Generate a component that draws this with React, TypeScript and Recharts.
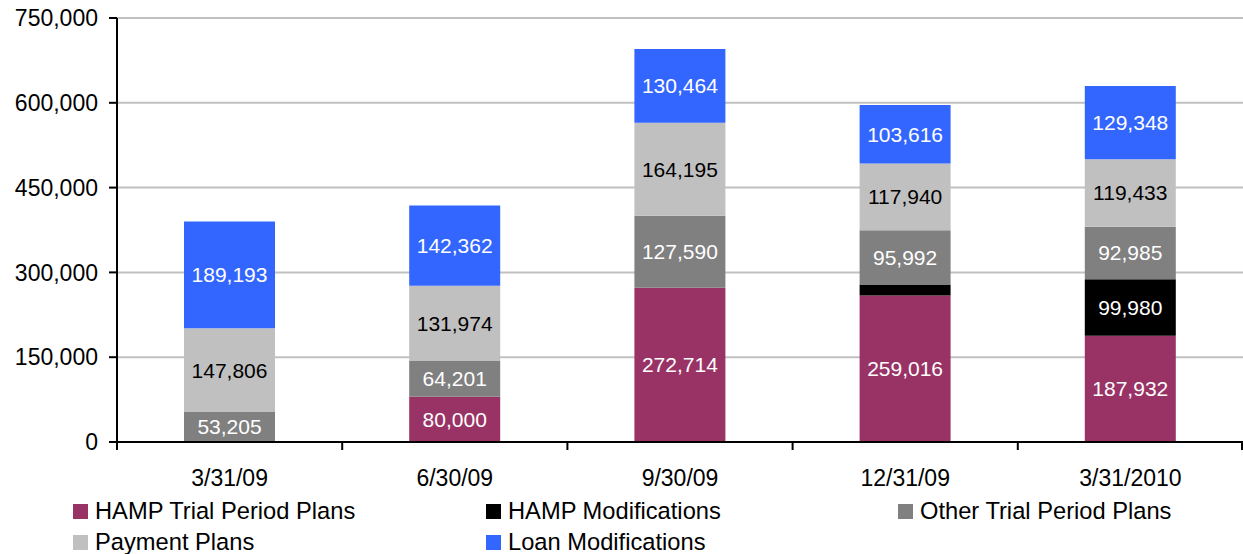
import React from "react";
import { BarChart, Bar, XAxis, YAxis, CartesianGrid, LabelList } from "recharts";

// Quarter-end reporting dates
const periods = ["3/31/09", "6/30/09", "9/30/09", "12/31/09", "3/31/2010"];

// Workout counts by type, stacked bottom to top
const hampTrialPlans = [0, 80000, 272714, 259016, 187932];
const hampModifications = [0, 0, 0, 19500, 99980];
const otherTrialPlans = [53205, 64201, 127590, 95992, 92985];
const paymentPlans = [147806, 131974, 164195, 117940, 119433];
const loanModifications = [189193, 142362, 130464, 103616, 129348];

const yTicks = [0, 150000, 300000, 450000, 600000, 750000];

const series = [
  { key: "hampTrial", name: "HAMP Trial Period Plans", values: hampTrialPlans, color: "#993366", labelColor: "#ffffff" },
  { key: "hampMod", name: "HAMP Modifications", values: hampModifications, color: "#000000", labelColor: "#ffffff" },
  { key: "otherTrial", name: "Other Trial Period Plans", values: otherTrialPlans, color: "#808080", labelColor: "#ffffff" },
  { key: "payment", name: "Payment Plans", values: paymentPlans, color: "#c0c0c0", labelColor: "#000000" },
  { key: "loanMod", name: "Loan Modifications", values: loanModifications, color: "#3366ff", labelColor: "#ffffff" },
];

const data = periods.map((period, i) => {
  const row: Record<string, string | number> = { period };
  series.forEach((s) => {
    row[s.key] = s.values[i];
  });
  return row;
});

const WIDTH = 1243;
const HEIGHT = 554;
const AXIS_X = 117;
const PLOT_TOP = 18;
const PLOT_BOTTOM = 442;
const LEGEND_H = 62;
const XAXIS_H = HEIGHT - LEGEND_H - PLOT_BOTTOM;
const STEP = (WIDTH - AXIS_X) / periods.length;
const FONT = "'Liberation Sans', Arial, Helvetica, sans-serif";

const fmt = (v: number) => v.toLocaleString("en-US");

// Category label plus tick marks on the boundaries between categories
const XTick = (props: any) => {
  const { x, payload, index } = props;
  const left = x - STEP / 2;
  const right = x + STEP / 2;
  return (
    <g>
      <line x1={left} x2={left} y1={PLOT_BOTTOM} y2={PLOT_BOTTOM + 8} stroke="#000" strokeWidth={2} />
      {index === periods.length - 1 && (
        <line x1={right - 1} x2={right - 1} y1={PLOT_BOTTOM} y2={PLOT_BOTTOM + 8} stroke="#000" strokeWidth={2} />
      )}
      <text x={x} y={PLOT_BOTTOM + 44} textAnchor="middle" fontSize={23} fontFamily={FONT} fill="#000">
        {payload.value}
      </text>
    </g>
  );
};

const legendCols = [73, 486, 898];
const legendRows = [511, 542];

export default function App() {
  return (
    <div style={{ position: "absolute", left: 0, top: 0, width: WIDTH, height: HEIGHT, background: "#fff" }}>
      <BarChart
        width={WIDTH}
        height={HEIGHT}
        data={data}
        margin={{ top: PLOT_TOP, right: 0, bottom: LEGEND_H, left: 0 }}
        style={{ fontFamily: FONT }}
      >
        <CartesianGrid vertical={false} stroke="#c0c0c0" strokeWidth={2} />
        <XAxis
          dataKey="period"
          height={XAXIS_H}
          tickLine={false}
          axisLine={{ stroke: "#000", strokeWidth: 2 }}
          tick={<XTick />}
          interval={0}
        />
        <YAxis
          width={AXIS_X}
          domain={[0, 750000]}
          ticks={yTicks}
          tickFormatter={fmt}
          tickSize={8}
          tickMargin={11}
          axisLine={{ stroke: "#000", strokeWidth: 2 }}
          tickLine={{ stroke: "#000", strokeWidth: 2 }}
          tick={{ fontSize: 23, fill: "#000", fontFamily: FONT }}
          allowDataOverflow
        />
        {series.map((s) => (
          <Bar
            key={s.key}
            dataKey={s.key}
            name={s.name}
            stackId="total"
            fill={s.color}
            barSize={91}
            isAnimationActive={false}
          >
            <LabelList
              dataKey={s.key}
              position="center"
              formatter={(v: any) => (Number(v) >= 40000 ? fmt(Number(v)) : "")}
              fill={s.labelColor}
              fontSize={21}
              fontFamily={FONT}
            />
          </Bar>
        ))}
      </BarChart>
      {series.map((s, i) => {
        const col = i % 3;
        const row = Math.floor(i / 3);
        return (
          <div
            key={s.key}
            style={{
              position: "absolute",
              left: legendCols[col],
              top: legendRows[row] - 14,
              height: 28,
              display: "flex",
              alignItems: "center",
              fontFamily: FONT,
              fontSize: 23.7,
              color: "#000",
              whiteSpace: "nowrap",
            }}
          >
            <span style={{ display: "inline-block", width: 15, height: 15, background: s.color, marginRight: 7 }} />
            {s.name}
          </div>
        );
      })}
    </div>
  );
}
